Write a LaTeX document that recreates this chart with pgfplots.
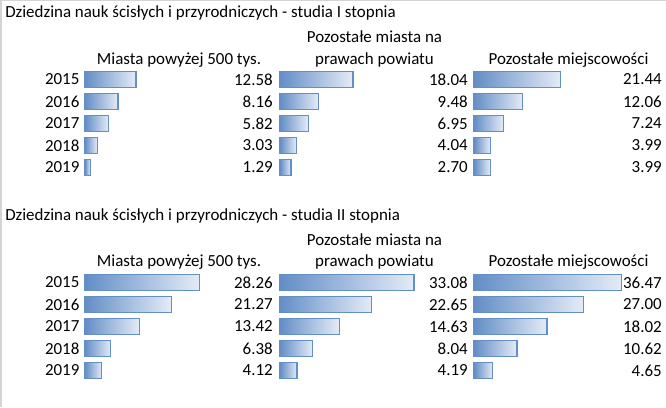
\documentclass[border=0pt]{standalone}
\usepackage{pgfplots}
\pgfplotsset{compat=1.18}
\usepackage{pgfplotstable}
\usepackage{fontspec}
\setmainfont{Carlito}
\definecolor{barblue}{HTML}{638EC6}
\definecolor{barlight}{HTML}{E4EBF6}
\definecolor{gridgray}{HTML}{D4D4D4}
\newcommand\cf{\fontsize{12.7}{14}\selectfont}
\pgfkeys{/pgf/number format/assume math mode=true}

\pgfplotstableread{
idx a b c
0 12.58 18.04 21.44
1 8.16 9.48 12.06
2 5.82 6.95 7.24
3 3.03 4.04 3.99
4 1.29 2.70 3.99
}\topT
\pgfplotstableread{
idx a b c
0 28.26 33.08 36.47
1 21.27 22.65 27.00
2 13.42 14.63 18.02
3 6.38 8.04 10.62
4 4.12 4.19 4.65
}\botT

\pgfplotsset{
  cell/.style={
    scale only axis, width=141pt, height=82.5pt,
    anchor=north west,
    xmin=0, xmax=46.42, ymin=-0.5, ymax=4.5, y dir=reverse,
    axis line style={draw=none}, xtick=\empty, ytick={0,...,4},
    major tick length=0pt, clip=false,
    yticklabels={}, 
    yticklabel style={font=\cf, inner sep=0pt, xshift=-4pt},
  },
  years/.style={yticklabels={2015,2016,2017,2018,2019}},
  barst/.style={xbar, bar width=11.5pt, bar shift=0pt, draw=barblue, line width=0.9pt, left color=barblue, right color=barlight},
  valst/.style={draw=none, mark=none, point meta=explicit,
    nodes near coords={\pgfmathprintnumber[fixed,fixed zerofill,precision=2]{\pgfplotspointmeta}},
    every node near coord/.style={anchor=east, inner sep=0pt, font=\cf, text=black}},
}
% each bar drawn on its own so that each gets its own gradient
\newcommand\bars[2]{%
  \addplot[barst, skip coords between index={1}{5}] table[x=#2, y=idx]{#1};
  \addplot[barst, skip coords between index={0}{1}, skip coords between index={2}{5}] table[x=#2, y=idx]{#1};
  \addplot[barst, skip coords between index={0}{2}, skip coords between index={3}{5}] table[x=#2, y=idx]{#1};
  \addplot[barst, skip coords between index={0}{3}, skip coords between index={4}{5}] table[x=#2, y=idx]{#1};
  \addplot[barst, skip coords between index={0}{4}] table[x=#2, y=idx]{#1};
  \addplot[valst] table[x expr=46.42, y=idx, meta=#2]{#1};
}

\begin{document}
\begin{tikzpicture}[x=0.75pt, y=-0.75pt, font=\cf]
\path[use as bounding box, fill=white] (0,0) rectangle (666,407);
\draw[gridgray, line width=1.2pt] (0.8,407) -- (0.8,0.5) -- (666,0.5);
\coordinate (TA) at (85,68.5);
\coordinate (TB) at (280,68.5);
\coordinate (TC) at (474,68.5);
\coordinate (BA) at (85,271.5);
\coordinate (BB) at (280,271.5);
\coordinate (BC) at (474,271.5);

% ---- top panel
\node[anchor=base west, inner sep=0pt] at (5,17.3) {Dziedzina nauk ścisłych i przyrodniczych - studia I stopnia};
\node[anchor=base, inner sep=0pt] at (374.5,42.7) {Pozostałe miasta na};
\node[anchor=base, inner sep=0pt] at (179,64.3) {Miasta powyżej 500 tys.};
\node[anchor=base, inner sep=0pt] at (374.5,64.3) {prawach powiatu};
\node[anchor=base, inner sep=0pt] at (568.5,64.3) {Pozostałe miejscowości};

\begin{axis}[cell, years, at={(TA)}]
\bars{\topT}{a}
\end{axis}
\begin{axis}[cell, at={(TB)}]
\bars{\topT}{b}
\end{axis}
\begin{axis}[cell, at={(TC)}]
\bars{\topT}{c}
\end{axis}

% ---- bottom panel
\node[anchor=base west, inner sep=0pt] at (5,220) {Dziedzina nauk ścisłych i przyrodniczych - studia II stopnia};
\node[anchor=base, inner sep=0pt] at (374.5,245) {Pozostałe miasta na};
\node[anchor=base, inner sep=0pt] at (179,266.7) {Miasta powyżej 500 tys.};
\node[anchor=base, inner sep=0pt] at (374.5,266.7) {prawach powiatu};
\node[anchor=base, inner sep=0pt] at (568.5,266.7) {Pozostałe miejscowości};

\begin{axis}[cell, years, at={(BA)}]
\bars{\botT}{a}
\end{axis}
\begin{axis}[cell, at={(BB)}]
\bars{\botT}{b}
\end{axis}
\begin{axis}[cell, at={(BC)}]
\bars{\botT}{c}
\end{axis}
\end{tikzpicture}
\end{document}
